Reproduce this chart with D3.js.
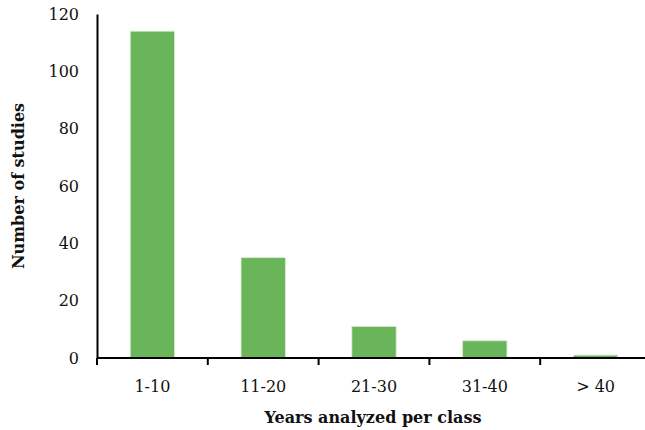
<!DOCTYPE html>
<html>
<head>
<meta charset="utf-8">
<script src="https://cdn.jsdelivr.net/npm/d3@7"></script>
<style>
  body { margin: 0; background: #fff; }
  text { font-family: "DejaVu Serif", "Liberation Serif", serif; fill: #111; }
</style>
</head>
<body>
<div id="chart-area"></div>
<script>
var categories = ["1-10", "11-20", "21-30", "31-40", "> 40"];
var studies = [114, 35, 11, 6, 1];
var yTicks = [0, 20, 40, 60, 80, 100, 120];

var width = 645;
var height = 430;
var margin = {left: 97, top: 14, right: -6, bottom: 72};
var innerW = width - margin.left - margin.right;
var innerH = height - margin.top - margin.bottom;

var svg = d3.select("#chart-area")
  .append("svg")
  .attr("width", width)
  .attr("height", height);

var g = svg.append("g")
  .attr("transform", "translate(" + margin.left + "," + margin.top + ")");

var x = d3.scaleBand()
  .domain(categories)
  .range([0, innerW])
  .paddingInner(0.6)
  .paddingOuter(0.3);

var y = d3.scaleLinear()
  .domain([0, 120])
  .range([innerH, 0]);

// bars
g.selectAll("rect.bar")
  .data(studies)
  .enter().append("rect")
  .attr("class", "bar")
  .attr("x", function(d, i) { return x(categories[i]); })
  .attr("y", function(d) { return y(d); })
  .attr("width", x.bandwidth())
  .attr("height", function(d) { return innerH - y(d); })
  .attr("fill", "#6AB55A")
  .attr("stroke", "#d8ecd3")
  .attr("stroke-width", 0.8);

// y axis
var leftAxis = d3.axisLeft(y).tickValues(yTicks).tickSize(0).tickPadding(18);
var yAxis = g.append("g").call(leftAxis);
yAxis.select(".domain").attr("stroke", "#000").attr("stroke-width", 2);
yAxis.selectAll("text")
  .attr("font-size", "16px")
  .attr("font-family", "DejaVu Serif")
  .attr("fill", "#111");

// x axis with band-edge ticks
var xAxisG = g.append("g")
  .attr("transform", "translate(0," + innerH + ")");
xAxisG.append("line")
  .attr("x1", 0).attr("x2", innerW + 10)
  .attr("y1", 0).attr("y2", 0)
  .attr("stroke", "#000").attr("stroke-width", 2);

var step = x.step();
var edges = d3.range(categories.length).map(function(i) {
  return x(categories[i]) - (step - x.bandwidth()) / 2;
});
xAxisG.selectAll("line.tick")
  .data(edges)
  .enter().append("line")
  .attr("class", "tick")
  .attr("x1", function(d) { return d; })
  .attr("x2", function(d) { return d; })
  .attr("y1", 0).attr("y2", 7)
  .attr("stroke", "#000").attr("stroke-width", 2);

xAxisG.selectAll("text.cat")
  .data(categories)
  .enter().append("text")
  .attr("class", "cat")
  .attr("x", function(d) { return x(d) + x.bandwidth() / 2; })
  .attr("y", 34)
  .attr("text-anchor", "middle")
  .attr("font-size", "16px")
  .text(function(d) { return d; });

// axis titles
svg.append("text")
  .attr("x", 373)
  .attr("y", 423)
  .attr("text-anchor", "middle")
  .attr("font-size", "16px")
  .attr("font-weight", "bold")
  .text("Years analyzed per class");

svg.append("text")
  .attr("transform", "translate(24," + (margin.top + innerH / 2) + ") rotate(-90)")
  .attr("text-anchor", "middle")
  .attr("font-size", "16px")
  .attr("font-weight", "bold")
  .text("Number of studies");
</script>
</body>
</html>
